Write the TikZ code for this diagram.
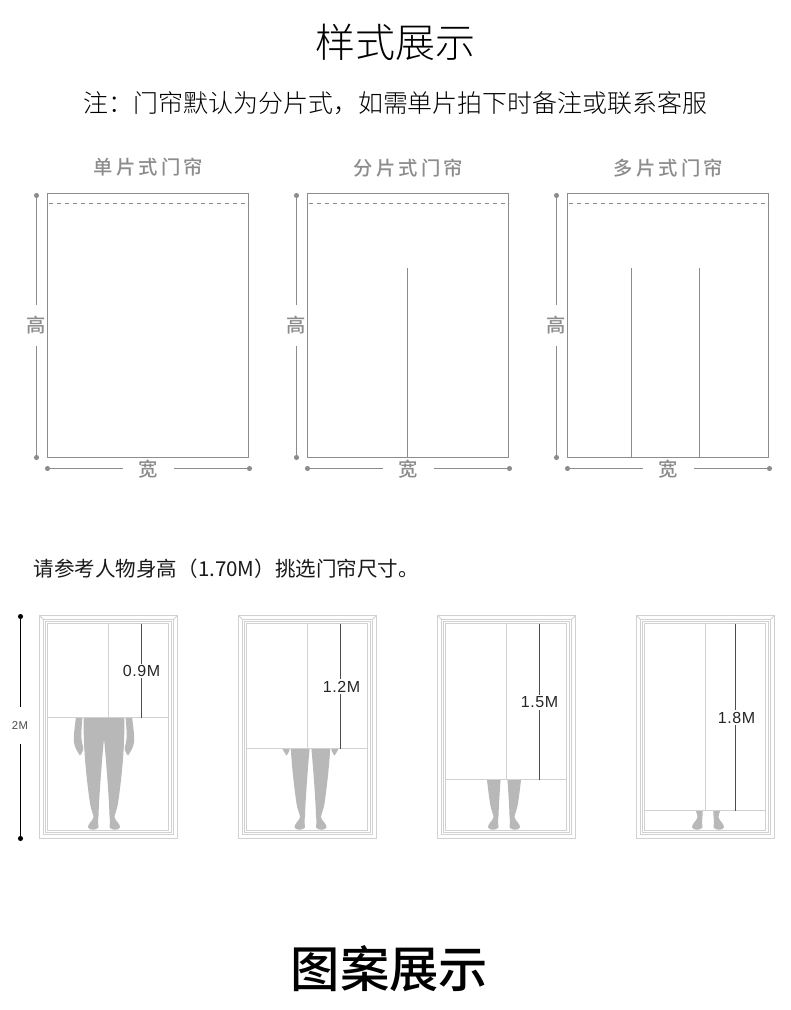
\documentclass[tikz,border=0pt]{standalone}
\usepackage{fontspec}
\setmainfont{Noto Sans CJK SC}
\newfontfamily\spacedcjk[LetterSpace=16]{Noto Sans CJK SC Medium}
\newfontfamily\mediumcjk{Noto Sans CJK SC Medium}
\newfontfamily\lightcjk{Noto Sans CJK SC Light}
\newfontfamily\latinfont[LetterSpace=4]{Liberation Sans}
\definecolor{panelgray}{gray}{0.55}
\definecolor{framegray}{gray}{0.82}
\definecolor{persongray}{gray}{0.72}
\tikzset{
    panelline/.style={draw=panelgray, line width=0.8pt},
    dimdot/.style={circle, fill=panelgray, inner sep=0pt, minimum size=3.8pt},
    blackdot/.style={circle, fill=black, inner sep=0pt, minimum size=3.8pt},
    highlabel/.style={text=panelgray, font=\fontsize{14.5}{14.5}\mediumcjk, inner sep=0pt, minimum height=31pt},
    widelabel/.style={text=panelgray, font=\fontsize{14.5}{14.5}\mediumcjk, inner sep=0pt, minimum width=38pt},
    paneltitle/.style={text=panelgray, font=\fontsize{14.5}{14.5}\spacedcjk},
    framerule/.style={draw=framegray, line width=0.6pt},
    sizelabel/.style={text=black!85, inner sep=1pt, font=\fontsize{12}{12}\latinfont},
    sizeline/.style={draw=black!70, line width=0.9pt}
}
% half of the figure, x measured from the middle of the legs
\newcommand{\halfperson}{
    \fill[persongray] (-0.5,712) -- (20,712) .. controls (21.5,740) and (18,775) .. (14,803)
        .. controls (13,810) and (10.5,813) .. (10.5,817)
        .. controls (12,821) and (16,823) .. (16,827)
        .. controls (14,830) and (8,830) .. (5.5,827)
        .. controls (6,822) and (6,820) .. (5.5,815)
        .. controls (5,800) and (3,770) .. (0,738) -- (-0.5,738) -- cycle;
    \fill[persongray] (21,712) -- (27.5,712) .. controls (29,725) and (31,738) .. (30,742)
        .. controls (29,748) and (26,752) .. (24,755)
        .. controls (21.5,752) and (19.5,748) .. (21.5,744)
        .. controls (23.5,738) and (22.5,725) .. (21,712) -- cycle;
}
\newcommand{\person}[2]{
    \begin{scope}
        \clip (#1-40,#2) rectangle (#1+40,832);
        \begin{scope}[shift={(#1,0)}]
            \halfperson
            \begin{scope}[xscale=-1]
                \halfperson
            \end{scope}
        \end{scope}
    \end{scope}
}
% window frame, #1 left edge, #2 curtain seam, #3 curtain bottom
\newcommand{\windowframe}[3]{
    \draw[framerule, line width=0.95pt] (#1,615) rectangle (#1+138,838);
    \draw[framerule] (#1+4,619) rectangle (#1+134,834);
    \draw[framerule] (#1+6,621) rectangle (#1+132,832);
    \draw[framerule, line width=0.8pt] (#1+8,623) rectangle (#1+129,830);
    \draw[framerule] (#1,615) -- (#1+4,619);
    \draw[framerule] (#1+138,615) -- (#1+134,619);
    \draw[framerule, line width=0.8pt] (#1+8,#3) -- (#1+129,#3);
    \draw[framerule, line width=1pt] (#2,623) -- (#2,#3);
}
\begin{document}
\begin{tikzpicture}[x=0.75pt,y=-0.75pt,shift={(0.5,0.5)}]
    \useasboundingbox (-0.5,-0.5) rectangle (789.5,1009.5);
    \fill[white] (-0.5,-0.5) rectangle (789.5,1009.5);

    \node (maintitle) at (395,42) {\fontsize{30}{30}\lightcjk 样式展示};
    \node (notetext) at (395,103) {\fontsize{18.7}{18.7}\lightcjk 注：门帘默认为分片式，如需单片拍下时备注或联系客服};

    \node[paneltitle] (titleone) at (148,167) {单片式门帘};
    \node[paneltitle] (titletwo) at (408,168) {分片式门帘};
    \node[paneltitle] (titlethree) at (668,168) {多片式门帘};

    \draw[panelline] (47,193) rectangle (248,457);
    \draw[panelline] (307,193) rectangle (508,457);
    \draw[panelline] (567,193) rectangle (768,457);

    \draw[panelline, line width=0.6pt, dashed] (48,203) -- (248,203);
    \draw[panelline, line width=0.6pt, dashed] (308,203) -- (508,203);
    \draw[panelline, line width=0.6pt, dashed] (568,203) -- (768,203);

    \draw[panelline] (407,267.5) -- (407,457);
    \draw[panelline] (631,267.5) -- (631,457);
    \draw[panelline] (699,267.5) -- (699,457);

    \node[highlabel] (highone) at (36,325) {高};
    \node[highlabel] (hightwo) at (296,325) {高};
    \node[highlabel] (highthree) at (556,325) {高};
    \node[dimdot] (hitopone) at (36,195) {};
    \node[dimdot] (hibotone) at (36,457) {};
    \node[dimdot] (hitoptwo) at (296,195) {};
    \node[dimdot] (hibottwo) at (296,457) {};
    \node[dimdot] (hitopthree) at (556,195) {};
    \node[dimdot] (hibotthree) at (556,457) {};
    \draw[panelline] (hitopone) -- (highone);
    \draw[panelline] (hibotone) -- (highone);
    \draw[panelline] (hitoptwo) -- (hightwo);
    \draw[panelline] (hibottwo) -- (hightwo);
    \draw[panelline] (hitopthree) -- (highthree);
    \draw[panelline] (hibotthree) -- (highthree);

    \node[widelabel] (wideone) at (148,469) {宽};
    \node[widelabel] (widetwo) at (408,469) {宽};
    \node[widelabel] (widethree) at (668,469) {宽};
    \node[dimdot] (wileftone) at (47,468) {};
    \node[dimdot] (wirightone) at (249,468) {};
    \node[dimdot] (wilefttwo) at (307,468) {};
    \node[dimdot] (wirighttwo) at (509,468) {};
    \node[dimdot] (wileftthree) at (567,468) {};
    \node[dimdot] (wirightthree) at (769,468) {};
    \draw[panelline] (wileftone) -- (wileftone -| wideone.west);
    \draw[panelline] (wirightone) -- (wirightone -| wideone.east);
    \draw[panelline] (wilefttwo) -- (wilefttwo -| widetwo.west);
    \draw[panelline] (wirighttwo) -- (wirighttwo -| widetwo.east);
    \draw[panelline] (wileftthree) -- (wileftthree -| widethree.west);
    \draw[panelline] (wirightthree) -- (wirightthree -| widethree.east);

    \node[anchor=west, inner sep=0pt, text=black!90] (picknote) at (33,568) {\fontsize{15.4}{15.4}\selectfont 请参考人物身高（1.70M）挑选门帘尺寸。};

    \person{103.5}{717}
    \person{310}{748}
    \person{503.5}{779}
    \person{707.5}{810}

    \windowframe{39}{108}{717}
    \windowframe{238}{307}{748}
    \windowframe{437}{506}{779}
    \windowframe{636}{705}{810}

    \node[sizelabel] (sizeone) at (141,670.5) {0.9M};
    \node[sizelabel] (sizetwo) at (341,686) {1.2M};
    \node[sizelabel] (sizethree) at (539,702) {1.5M};
    \node[sizelabel] (sizefour) at (736,717) {1.8M};
    \coordinate (seamtopone) at (141,623);
    \coordinate (seambotone) at (141,717);
    \coordinate (seamtoptwo) at (340,623);
    \coordinate (seambottwo) at (340,748);
    \coordinate (seamtopthree) at (539,623);
    \coordinate (seambotthree) at (539,779);
    \coordinate (seamtopfour) at (735,623);
    \coordinate (seambotfour) at (735,810);
    \draw[sizeline] (seamtopone) -- (seamtopone |- sizeone.north);
    \draw[sizeline] (seambotone) -- (seambotone |- sizeone.south);
    \draw[sizeline] (seamtoptwo) -- (seamtoptwo |- sizetwo.north);
    \draw[sizeline] (seambottwo) -- (seambottwo |- sizetwo.south);
    \draw[sizeline] (seamtopthree) -- (seamtopthree |- sizethree.north);
    \draw[sizeline] (seambotthree) -- (seambotthree |- sizethree.south);
    \draw[sizeline] (seamtopfour) -- (seamtopfour |- sizefour.north);
    \draw[sizeline] (seambotfour) -- (seambotfour |- sizefour.south);

    \node[blackdot] (twotop) at (20,616) {};
    \node[blackdot] (twobot) at (20,838) {};
    \node[inner sep=0pt, minimum height=27pt, text=black!70, font=\fontsize{8.5}{8.5}\latinfont] (twolabel) at (19.5,725) {2M};
    \draw[line width=0.9pt] (twotop) -- (twotop |- twolabel.north);
    \draw[line width=0.9pt] (twobot) -- (twobot |- twolabel.south);

    \node (bottomtitle) at (389,968) {\fontsize{37}{37}\mediumcjk 图案展示};
\end{tikzpicture}
\end{document}
